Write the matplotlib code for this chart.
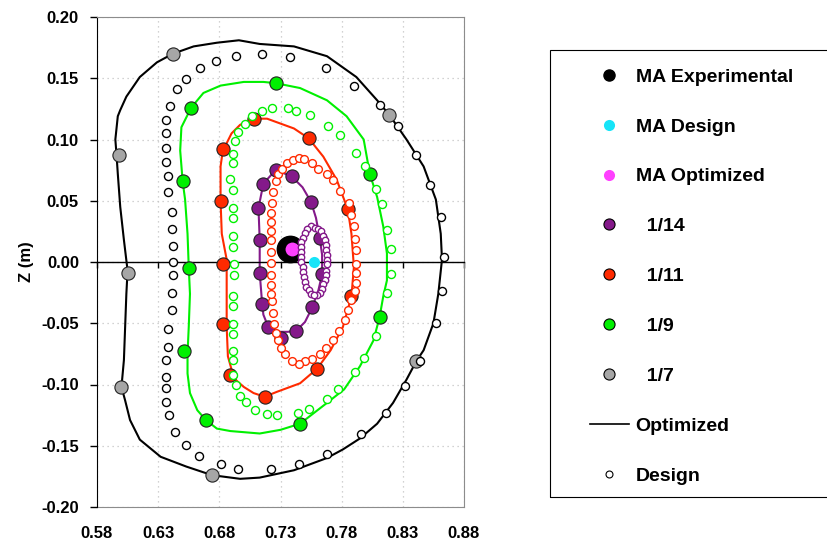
import matplotlib
matplotlib.use('Agg')
import matplotlib.pyplot as plt
from matplotlib.lines import Line2D
from matplotlib.patches import Rectangle
from matplotlib.ticker import FormatStrFormatter

plt.rcParams['font.family'] = ['Liberation Sans', 'DejaVu Sans']
plt.rcParams['font.weight'] = 'bold'

# magnetic axis positions (R, Z) in m
ma_experimental = (0.738, 0.011)
ma_design = (0.757, 0.000)
ma_optimized = (0.739, 0.011)

# measured points on each flux surface
pts_14 = [(0.726, 0.075), (0.716, 0.064), (0.739, 0.070), (0.755, 0.049), (0.762, 0.020),
          (0.764, -0.010), (0.756, -0.037), (0.743, -0.056), (0.730, -0.062), (0.720, -0.053),
          (0.715, -0.034), (0.713, -0.009), (0.713, 0.018), (0.712, 0.044)]
pts_11 = [(0.708, 0.117), (0.683, 0.092), (0.681, 0.050), (0.683, -0.002), (0.683, -0.051),
          (0.689, -0.092), (0.717, -0.110), (0.760, -0.087), (0.788, -0.028), (0.785, 0.043),
          (0.753, 0.101)]
pts_9 = [(0.657, 0.126), (0.650, 0.066), (0.655, -0.005), (0.651, -0.073), (0.669, -0.129),
         (0.746, -0.132), (0.811, -0.045), (0.803, 0.072), (0.726, 0.146)]
pts_7 = [(0.642, 0.170), (0.598, 0.087), (0.605, -0.009), (0.600, -0.102), (0.674, -0.174),
         (0.841, -0.081), (0.819, 0.120)]

# optimized surfaces (lines)
opt_14 = [(0.716, 0.064), (0.726, 0.075), (0.739, 0.070), (0.748, 0.061), (0.755, 0.049),
          (0.759, 0.036), (0.762, 0.020), (0.764, 0.006), (0.764, -0.010), (0.761, -0.023),
          (0.756, -0.037), (0.750, -0.049), (0.743, -0.056), (0.736, -0.057), (0.726, -0.057),
          (0.720, -0.053), (0.716, -0.043), (0.715, -0.034), (0.713, -0.009), (0.713, 0.018),
          (0.712, 0.044), (0.716, 0.064)]
opt_11 = [(0.708, 0.117), (0.719, 0.117), (0.730, 0.113), (0.741, 0.109), (0.753, 0.101),
          (0.765, 0.086), (0.776, 0.067), (0.785, 0.043), (0.788, 0.023), (0.790, -0.004),
          (0.788, -0.028), (0.781, -0.053), (0.771, -0.072), (0.760, -0.087), (0.746, -0.099),
          (0.727, -0.106), (0.717, -0.110), (0.708, -0.107), (0.700, -0.102), (0.692, -0.095),
          (0.687, -0.077), (0.686, -0.053), (0.686, -0.026), (0.686, 0.002), (0.682, 0.023),
          (0.681, 0.050), (0.681, 0.078), (0.683, 0.092), (0.686, 0.097), (0.690, 0.105),
          (0.697, 0.112), (0.708, 0.117)]
opt_9 = [(0.655, -0.004), (0.654, 0.023), (0.652, 0.051), (0.650, 0.066), (0.648, 0.091),
         (0.649, 0.110), (0.657, 0.126), (0.667, 0.138), (0.681, 0.144), (0.700, 0.147),
         (0.716, 0.147), (0.726, 0.146), (0.746, 0.142), (0.768, 0.132), (0.784, 0.119),
         (0.798, 0.100), (0.803, 0.072), (0.809, 0.053), (0.814, 0.029), (0.817, 0.007),
         (0.817, -0.015), (0.814, -0.028), (0.811, -0.045), (0.806, -0.064), (0.795, -0.085),
         (0.782, -0.104), (0.768, -0.115), (0.746, -0.132), (0.730, -0.137), (0.713, -0.140),
         (0.689, -0.138), (0.678, -0.136), (0.669, -0.129), (0.662, -0.121), (0.656, -0.107),
         (0.654, -0.091), (0.654, -0.075), (0.655, -0.053), (0.656, -0.026), (0.655, -0.004)]
opt_7 = [(0.605, -0.007), (0.604, -0.026), (0.603, -0.053), (0.602, -0.080), (0.600, -0.102),
         (0.603, -0.113), (0.607, -0.129), (0.615, -0.145), (0.632, -0.159), (0.653, -0.167),
         (0.674, -0.174), (0.697, -0.177), (0.713, -0.176), (0.741, -0.170), (0.768, -0.160),
         (0.781, -0.153), (0.795, -0.144), (0.809, -0.132), (0.822, -0.115), (0.833, -0.096),
         (0.841, -0.081), (0.847, -0.072), (0.855, -0.050), (0.859, -0.026), (0.862, 0.002),
         (0.861, 0.023), (0.857, 0.051), (0.847, 0.078), (0.833, 0.100), (0.819, 0.120),
         (0.809, 0.132), (0.792, 0.151), (0.768, 0.168), (0.741, 0.176), (0.713, 0.178),
         (0.696, 0.181), (0.678, 0.179), (0.659, 0.176), (0.642, 0.170), (0.629, 0.163),
         (0.615, 0.151), (0.604, 0.135), (0.599, 0.124), (0.597, 0.119), (0.595, 0.100),
         (0.596, 0.087), (0.597, 0.072), (0.599, 0.045), (0.602, 0.018), (0.605, -0.007)]

# design surfaces (open circles)
des_14 = [(0.755, 0.029), (0.758, 0.028), (0.761, 0.027), (0.752, 0.027), (0.763, 0.025),
          (0.750, 0.024), (0.765, 0.021), (0.748, 0.020), (0.766, 0.018), (0.747, 0.016),
          (0.767, 0.014), (0.747, 0.012), (0.767, 0.010), (0.747, 0.008), (0.768, 0.006),
          (0.747, 0.004), (0.768, 0.002), (0.747, 0.000), (0.768, -0.002), (0.748, -0.004),
          (0.767, -0.007), (0.748, -0.008), (0.767, -0.011), (0.749, -0.012), (0.766, -0.015),
          (0.750, -0.016), (0.765, -0.018), (0.751, -0.020), (0.764, -0.022), (0.753, -0.023),
          (0.762, -0.025), (0.755, -0.026), (0.760, -0.027), (0.757, -0.027)]
des_11 = [(0.722, -0.001), (0.722, 0.008), (0.722, 0.018), (0.722, 0.025), (0.722, 0.033),
          (0.722, 0.040), (0.723, 0.048), (0.724, 0.057), (0.726, 0.066), (0.728, 0.072),
          (0.731, 0.076), (0.735, 0.081), (0.740, 0.083), (0.745, 0.085), (0.749, 0.084),
          (0.756, 0.081), (0.761, 0.076), (0.768, 0.072), (0.773, 0.067), (0.779, 0.058),
          (0.786, 0.048), (0.788, 0.038), (0.790, 0.029), (0.791, 0.019), (0.792, 0.010),
          (0.792, -0.002), (0.792, -0.009), (0.792, -0.017), (0.791, -0.024), (0.788, -0.031),
          (0.785, -0.039), (0.783, -0.047), (0.778, -0.056), (0.773, -0.064), (0.767, -0.070),
          (0.762, -0.075), (0.756, -0.079), (0.750, -0.081), (0.745, -0.083), (0.739, -0.081),
          (0.734, -0.075), (0.730, -0.070), (0.728, -0.064), (0.726, -0.058), (0.725, -0.051),
          (0.724, -0.042), (0.723, -0.032), (0.722, -0.026), (0.722, -0.019), (0.722, -0.011)]
des_9 = [(0.692, -0.002), (0.692, -0.011), (0.691, -0.028), (0.691, -0.036), (0.691, -0.051),
         (0.691, -0.059), (0.691, -0.073), (0.691, -0.080), (0.691, -0.092), (0.694, -0.100),
         (0.697, -0.109), (0.702, -0.114), (0.709, -0.121), (0.719, -0.124), (0.727, -0.125),
         (0.744, -0.123), (0.753, -0.120), (0.768, -0.112), (0.777, -0.104), (0.791, -0.090),
         (0.798, -0.078), (0.808, -0.060), (0.817, -0.025), (0.820, -0.010), (0.820, 0.011),
         (0.817, 0.026), (0.813, 0.047), (0.808, 0.060), (0.799, 0.078), (0.792, 0.089),
         (0.779, 0.104), (0.769, 0.111), (0.754, 0.120), (0.743, 0.123), (0.736, 0.126),
         (0.723, 0.126), (0.715, 0.123), (0.707, 0.119), (0.701, 0.113), (0.695, 0.106),
         (0.693, 0.099), (0.691, 0.088), (0.691, 0.081), (0.689, 0.068), (0.691, 0.059),
         (0.691, 0.044), (0.691, 0.036), (0.691, 0.021), (0.691, 0.012)]
des_7 = [(0.642, 0.000), (0.642, 0.013), (0.641, 0.027), (0.641, 0.041), (0.638, 0.057),
         (0.638, 0.070), (0.636, 0.082), (0.636, 0.093), (0.636, 0.105), (0.636, 0.116),
         (0.640, 0.127), (0.645, 0.141), (0.653, 0.149), (0.664, 0.158), (0.677, 0.164),
         (0.694, 0.168), (0.715, 0.170), (0.738, 0.167), (0.767, 0.158), (0.790, 0.144),
         (0.811, 0.128), (0.826, 0.111), (0.841, 0.087), (0.852, 0.063), (0.861, 0.037),
         (0.864, 0.004), (0.862, -0.024), (0.857, -0.050), (0.844, -0.081), (0.832, -0.101),
         (0.816, -0.123), (0.796, -0.140), (0.768, -0.157), (0.745, -0.165), (0.722, -0.169),
         (0.695, -0.169), (0.681, -0.165), (0.663, -0.158), (0.653, -0.149), (0.644, -0.139),
         (0.639, -0.125), (0.636, -0.114), (0.636, -0.103), (0.636, -0.094), (0.636, -0.080),
         (0.638, -0.069), (0.638, -0.055), (0.641, -0.039), (0.641, -0.025), (0.642, -0.011)]

xticks = [0.58, 0.63, 0.68, 0.73, 0.78, 0.83, 0.88]
yticks = [-0.20, -0.15, -0.10, -0.05, 0.00, 0.05, 0.10, 0.15, 0.20]

purple = '#84198A'
red = '#FF2A00'
green = '#00F000'
gray = '#A6A6A6'
cyan = '#16E4F8'
magenta = '#FF40FF'

surfaces = [
    ('  1/7', 'black', gray, pts_7, opt_7, des_7, 5.8),
    ('  1/9', green, green, pts_9, opt_9, des_9, 5.8),
    ('  1/11', red, red, pts_11, opt_11, des_11, 5.6),
    ('  1/14', purple, purple, pts_14, opt_14, des_14, 4.6),
]


def xs(p):
    return [a for a, b in p]


def zs(p):
    return [b for a, b in p]


fig = plt.figure(figsize=(8.27, 5.45), dpi=100)
ax = fig.add_axes([97 / 827, 1 - 507 / 545, 367 / 827, 490 / 545])

for name, lc, mc, pts, opt, des, dsz in surfaces:
    ax.plot(xs(opt), zs(opt), color=lc, lw=1.5, zorder=2)
    ax.plot(xs(pts), zs(pts), 'o', ms=9.5, mfc=mc, mec='#222222', mew=0.8, zorder=3)

ax.plot(*ma_experimental, 'o', ms=19, mfc='black', mec='black', zorder=4)
ax.plot(*ma_optimized, 'o', ms=10, mfc=magenta, mec='none', zorder=4.5)

for name, lc, mc, pts, opt, des, dsz in surfaces:
    ax.plot(xs(des), zs(des), 'o', ms=dsz, mfc='white', mec=lc, mew=1.0, zorder=5)

ax.plot(*ma_design, 'o', ms=8, mfc=cyan, mec='none', zorder=6)

ax.set_xlim(0.58, 0.88)
ax.set_ylim(-0.20, 0.20)
ax.set_xticks(xticks)
ax.set_yticks(yticks)
ax.yaxis.set_major_formatter(FormatStrFormatter('%.2f'))
ax.grid(True, color='#C4C4C4', ls=(0, (1, 3)), lw=0.9, zorder=0)
ax.set_axisbelow(True)

ax.spines['bottom'].set_position(('data', 0))
ax.spines['bottom'].set_color('black')
ax.spines['bottom'].set_linewidth(1.0)
ax.spines['left'].set_color('black')
ax.spines['top'].set_color('#8C8C8C')
ax.spines['right'].set_color('#8C8C8C')
ax.tick_params(axis='x', direction='out', length=4, width=1, labelbottom=False)
ax.tick_params(axis='y', direction='out', length=5, width=1, labelsize=12, pad=8)
for t in ax.get_yticklabels():
    t.set_fontweight('bold')

sec = ax.secondary_xaxis('bottom')
sec.set_xticks(xticks)
sec.xaxis.set_major_formatter(FormatStrFormatter('%.2f'))
sec.tick_params(length=0, labelsize=12, pad=14)
for s in sec.spines.values():
    s.set_color('#8C8C8C')
for t in sec.get_xticklabels():
    t.set_fontweight('bold')

ax.set_ylabel('Z (m)', fontsize=12, fontweight='bold')
ax.yaxis.set_label_coords(-0.172, 0.5)

# legend
handles = [
    Line2D([], [], ls='none', marker='o', ms=8, mfc='black', mec='black'),
    Line2D([], [], ls='none', marker='o', ms=8, mfc=cyan, mec='none'),
    Line2D([], [], ls='none', marker='o', ms=8, mfc=magenta, mec='none'),
    Line2D([], [], ls='none', marker='o', ms=8, mfc=purple, mec='black', mew=0.8),
    Line2D([], [], ls='none', marker='o', ms=8, mfc=red, mec='black', mew=0.8),
    Line2D([], [], ls='none', marker='o', ms=8, mfc=green, mec='black', mew=0.8),
    Line2D([], [], ls='none', marker='o', ms=8, mfc=gray, mec='black', mew=0.8),
    Line2D([], [], color='black', lw=1.2),
    Line2D([], [], ls='none', marker='o', ms=5, mfc='white', mec='black', mew=0.8),
]
labels = ['MA Experimental', 'MA Design', 'MA Optimized', '  1/14', '  1/11',
          '  1/9', '  1/7', 'Optimized', 'Design']
fig.legend(handles, labels, loc='upper left', bbox_to_anchor=(590 / 827, 1 - 68 / 545),
           frameon=False, prop={'size': 14, 'weight': 'bold'}, handlelength=2.0,
           handletextpad=0.35, labelspacing=1.66, borderpad=0, borderaxespad=0)
fig.patches.append(Rectangle((550 / 827, 1 - 497 / 545), 300 / 827, 447 / 545,
                             transform=fig.transFigure, fill=False, ec='black', lw=0.8))

fig.savefig('out.png', dpi=100)
